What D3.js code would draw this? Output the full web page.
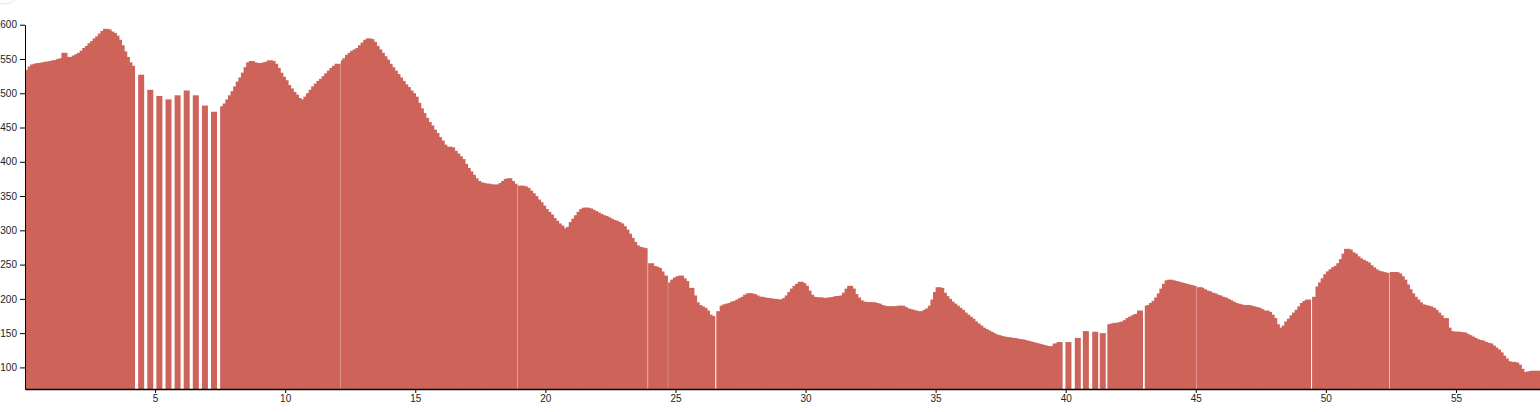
<!DOCTYPE html>
<html>
<head>
<meta charset="utf-8">
<script src="https://cdn.jsdelivr.net/npm/d3@7"></script>
<style>
  body { margin: 0; background: #fff; }
  svg { display: block; }
  .tick text { font-family: "Liberation Sans", Arial, sans-serif; font-size: 10px; fill: #222; }
</style>
</head>
<body>
<svg id="chart" width="1540" height="412"></svg>
<script>
// distance along route (km)
const distances = [
  0, 0.1, 0.2, 0.3, 0.4, 0.5, 0.6, 0.7, 0.8, 0.9,
  1.0, 1.1, 1.2, 1.3, 1.4, 1.5, 1.6, 1.7, 1.8, 1.9,
  2.0, 2.1, 2.2, 2.3, 2.4, 2.5, 2.6, 2.7, 2.8, 2.9,
  3.0, 3.1, 3.2, 3.3, 3.4, 3.5, 3.6, 3.7, 3.8, 3.9,
  4.0, 4.35, 4.7, 5.05, 5.4, 5.75, 6.1, 6.45, 6.8, 7.15, 7.5,
  7.6, 7.7, 7.8, 7.9,
  8.0, 8.1, 8.2, 8.3, 8.4, 8.5, 8.6, 8.7, 8.8, 8.9,
  9.0, 9.1, 9.2, 9.3, 9.4, 9.5, 9.6, 9.7, 9.8, 9.9,
  10.0, 10.1, 10.2, 10.3, 10.4, 10.5, 10.6, 10.7, 10.8, 10.9,
  11.0, 11.1, 11.2, 11.3, 11.4, 11.5, 11.6, 11.7, 11.8, 11.9,
  12.14, 12.2, 12.3, 12.4, 12.5, 12.6, 12.7, 12.8, 12.9,
  13.0, 13.1, 13.2, 13.3, 13.4, 13.5, 13.6, 13.7, 13.8, 13.9,
  14.0, 14.1, 14.2, 14.3, 14.4, 14.5, 14.6, 14.7, 14.8, 14.9,
  15.0, 15.1, 15.2, 15.3, 15.4, 15.5, 15.6, 15.7, 15.8, 15.9,
  16.0, 16.1, 16.2, 16.3, 16.4, 16.5, 16.6, 16.7, 16.8, 16.9,
  17.0, 17.1, 17.2, 17.3, 17.4, 17.5, 17.6, 17.7, 17.8, 17.9,
  18.0, 18.1, 18.2, 18.3, 18.4, 18.5, 18.6, 18.7, 18.94,
  19.0, 19.1, 19.2, 19.3, 19.4, 19.5, 19.6, 19.7, 19.8, 19.9,
  20.0, 20.1, 20.2, 20.3, 20.4, 20.5, 20.6, 20.7, 20.8, 20.9,
  21.0, 21.1, 21.2, 21.3, 21.4, 21.5, 21.6, 21.7, 21.8, 21.9,
  22.0, 22.1, 22.2, 22.3, 22.4, 22.5, 22.6, 22.7, 22.8, 22.9,
  23.0, 23.1, 23.2, 23.3, 23.4, 23.5, 23.6, 23.7, 23.95,
  24.05, 24.15, 24.25, 24.35, 24.48, 24.72, 24.8, 24.9,
  25.0, 25.1, 25.2, 25.3, 25.4, 25.5, 25.6, 25.7, 25.8, 25.9,
  26.0, 26.1, 26.2, 26.3, 26.57, 26.7, 26.8, 26.9,
  27.0, 27.1, 27.2, 27.3, 27.4, 27.5, 27.6, 27.7, 27.8, 27.9,
  28.0, 28.1, 28.2, 28.3, 28.4, 28.5, 28.6, 28.7, 28.8, 28.9,
  29.0, 29.1, 29.2, 29.3, 29.4, 29.5, 29.6, 29.7, 29.8, 29.9,
  30.0, 30.1, 30.2, 30.3, 30.4, 30.5, 30.6, 30.7, 30.8, 30.9,
  31.0, 31.1, 31.2, 31.3, 31.4, 31.5, 31.6, 31.7, 31.8, 31.9,
  32.0, 32.1, 32.2, 32.3, 32.4, 32.5, 32.6, 32.7, 32.8, 32.9,
  33.0, 33.1, 33.2, 33.3, 33.4, 33.5, 33.6, 33.7, 33.8, 33.9,
  34.0, 34.1, 34.2, 34.3, 34.4, 34.5, 34.6, 34.7, 34.8, 34.9,
  35.0, 35.1, 35.2, 35.3, 35.4, 35.5, 35.6, 35.7, 35.8, 35.9,
  36.0, 36.1, 36.2, 36.3, 36.4, 36.5, 36.6, 36.7, 36.8, 36.9,
  37.0, 37.1, 37.2, 37.3, 37.4, 37.5, 37.6, 37.7, 37.8, 37.9,
  38.0, 38.1, 38.2, 38.3, 38.4, 38.5, 38.6, 38.7, 38.8, 38.9,
  39.0, 39.1, 39.2, 39.3, 39.4, 39.5, 39.65, 39.99,
  40.35, 40.66, 41.02, 41.31, 41.6, 41.7, 41.8, 41.9,
  42.0, 42.1, 42.2, 42.3, 42.4, 42.5, 42.6, 42.74,
  43.04, 43.1, 43.2, 43.3, 43.4, 43.5, 43.6, 43.7, 43.8, 43.9,
  44.0, 44.1, 44.2, 44.3, 44.4, 44.5, 44.6, 44.7, 44.8,
  45.04, 45.1, 45.2, 45.3, 45.4, 45.5, 45.6, 45.7, 45.8, 45.9,
  46.0, 46.1, 46.2, 46.3, 46.4, 46.5, 46.6, 46.7, 46.8, 46.9,
  47.0, 47.1, 47.2, 47.3, 47.4, 47.5, 47.6, 47.7, 47.8, 47.9,
  48.0, 48.1, 48.2, 48.3, 48.4, 48.5, 48.6, 48.7, 48.8, 48.9,
  49.0, 49.1, 49.2, 49.47, 49.6, 49.7, 49.8, 49.9,
  50.0, 50.1, 50.2, 50.3, 50.4, 50.5, 50.6, 50.7, 50.8, 50.9,
  51.0, 51.1, 51.2, 51.3, 51.4, 51.5, 51.6, 51.7, 51.8, 51.9,
  52.0, 52.1, 52.2, 52.45, 52.5, 52.6, 52.7, 52.8, 52.9,
  53.0, 53.1, 53.2, 53.3, 53.4, 53.5, 53.6, 53.7, 53.8, 53.9,
  54.0, 54.1, 54.2, 54.3, 54.4, 54.5, 54.6, 54.7, 54.8, 54.9,
  55.0, 55.1, 55.2, 55.3, 55.4, 55.5, 55.6, 55.7, 55.8, 55.9,
  56.0, 56.1, 56.2, 56.3, 56.4, 56.5, 56.6, 56.7, 56.8, 56.9,
  57.0, 57.1, 57.2, 57.3, 57.4, 57.5, 57.6, 57.7, 57.8, 57.9,
  58.0, 58.1
];

// elevation (m)
const elevations = [
  534, 539, 542, 543, 544, 544, 545, 546, 546, 547,
  548, 548, 550, 551, 559, 553, 551, 553, 555, 557,
  559, 562, 566, 569, 573, 576, 580, 583, 587, 591,
  594, 593, 590, 588, 584, 578, 570, 561, 553, 545,
  540, 527, 505, 496, 491, 497, 504, 497, 482, 473, 481,
  485, 491, 497, 503,
  510, 517, 523, 530, 538, 545, 547, 545, 544, 544,
  543, 545, 546, 548, 547, 543, 537, 530, 524, 519,
  512, 507, 502, 498, 493, 490, 491, 495, 500, 505,
  510, 514, 518, 521, 525, 529, 533, 537, 540, 543,
  548, 551, 556, 559, 562, 564, 566, 570, 574,
  578, 580, 579, 575, 569, 564, 559, 554, 549, 543,
  538, 533, 528, 523, 518, 513, 509, 504, 500, 495,
  486, 478, 471, 464, 458, 453, 447, 442, 436, 431,
  425, 421, 422, 421, 416, 412, 408, 404, 397, 391,
  386, 381, 376, 372, 370, 369, 368, 368, 367, 366,
  367, 366, 369, 372, 375, 376, 372, 368, 365,
  365, 364, 362, 358, 354, 350, 345, 341, 336, 331,
  327, 323, 318, 314, 310, 307, 303, 300, 305, 312,
  317, 322, 327, 331, 333, 333, 332, 330, 328, 326,
  324, 322, 321, 319, 317, 315, 314, 312, 310, 306,
  301, 295, 289, 283, 278, 276, 275, 274, 252,
  248, 247, 245, 240, 234, 224, 228, 231,
  233, 234, 230, 226, 212, 216, 205, 195, 191, 189,
  187, 183, 177, 175, 182, 190, 192, 193,
  194, 196, 197, 199, 201, 203, 206, 208, 208, 207,
  205, 203, 203, 202, 201, 201, 200, 200, 199, 199,
  199, 201, 205, 210, 215, 219, 222, 225, 223, 219,
  212, 206, 203, 202, 202, 202, 201, 201, 202, 202,
  203, 204, 204, 205, 209, 215, 219, 215, 207, 202,
  198, 196, 195, 195, 195, 195, 194, 193, 191, 190,
  189, 189, 189, 189, 189, 190, 190, 188, 186, 185,
  184, 183, 182, 181, 182, 184, 186, 190, 199, 210,
  217, 216, 209, 204, 200, 196, 193, 190, 187, 184,
  180, 177, 174, 171, 167, 164, 161, 158, 156, 154,
  152, 150, 148, 147, 146, 145, 144, 144, 143, 143,
  142, 141, 141, 140, 139, 138, 137, 136, 135, 134,
  133, 132, 131, 130, 131, 135, 137, 137,
  143, 153, 152, 150, 163, 164, 165, 165,
  166, 167, 169, 172, 174, 176, 178, 183,
  190, 191, 194, 197, 202, 208, 215, 222, 227, 228,
  227, 226, 225, 224, 223, 222, 221, 220, 219,
  217, 216, 214, 212, 211, 209, 208, 206, 205, 203,
  202, 200, 198, 196, 194, 193, 192, 191, 191, 191,
  190, 189, 188, 187, 185, 180, 183, 181, 177, 172,
  163, 158, 157, 161, 167, 171, 176, 180, 184, 189,
  194, 197, 199, 203, 218, 224, 230, 236,
  240, 243, 246, 248, 252, 258, 266, 273, 272, 268,
  266, 262, 259, 257, 255, 253, 249, 246, 243, 241,
  240, 239, 238, 239, 239, 239, 237, 233, 228,
  221, 214, 208, 203, 199, 195, 192, 191, 190, 189,
  187, 184, 180, 176, 170, 172, 158, 153, 152, 152,
  152, 151, 151, 149, 147, 145, 143, 141, 140, 139,
  137, 136, 135, 132, 129, 126, 122, 117, 113, 109,
  108, 108, 107, 104, 98, 93, 93, 94, 95, 95,
  95, 95
];

const xTicks = [5, 10, 15, 20, 25, 30, 35, 40, 45, 50, 55];
const yTicks = [100, 150, 200, 250, 300, 350, 400, 450, 500, 550, 600];

const n = Math.min(distances.length, elevations.length);
const data = distances.slice(0, n).map((d, i) => ({ km: d, ele: elevations[i] }));

const BAR_W = 6;
const BAR_COLOR = "#cd6359";
const mLeft = 25, mRight = 1540, mTop = 24.7, mBottom = 389;

const svg = d3.select("#chart");

const x = d3.scaleLinear().domain([0, 58.23]).range([mLeft, mRight]);
const y = d3.scaleLinear().domain([68.5, 600]).range([mBottom, mTop]);

// faint decoration at top-left corner
svg.append("circle")
  .attr("cx", 5).attr("cy", -11).attr("r", 15)
  .attr("fill", "none").attr("stroke", "#e2e2e2").attr("stroke-width", 1);

svg.append("g")
  .selectAll("rect")
  .data(data)
  .join("rect")
  .attr("x", d => x(d.km))
  .attr("y", d => y(d.ele))
  .attr("width", BAR_W)
  .attr("height", d => mBottom - y(d.ele))
  .attr("fill", BAR_COLOR);

svg.append("g")
  .attr("transform", `translate(0,${mBottom})`)
  .call(d3.axisBottom(x).tickValues(xTicks).tickSize(4).tickPadding(2).tickSizeOuter(0))
  .call(g => g.select(".domain").attr("stroke-width", 1.5));

svg.append("g")
  .attr("transform", `translate(${mLeft},0)`)
  .call(d3.axisLeft(y).tickValues(yTicks).tickSize(5).tickPadding(3).tickSizeOuter(0));
</script>
</body>
</html>
